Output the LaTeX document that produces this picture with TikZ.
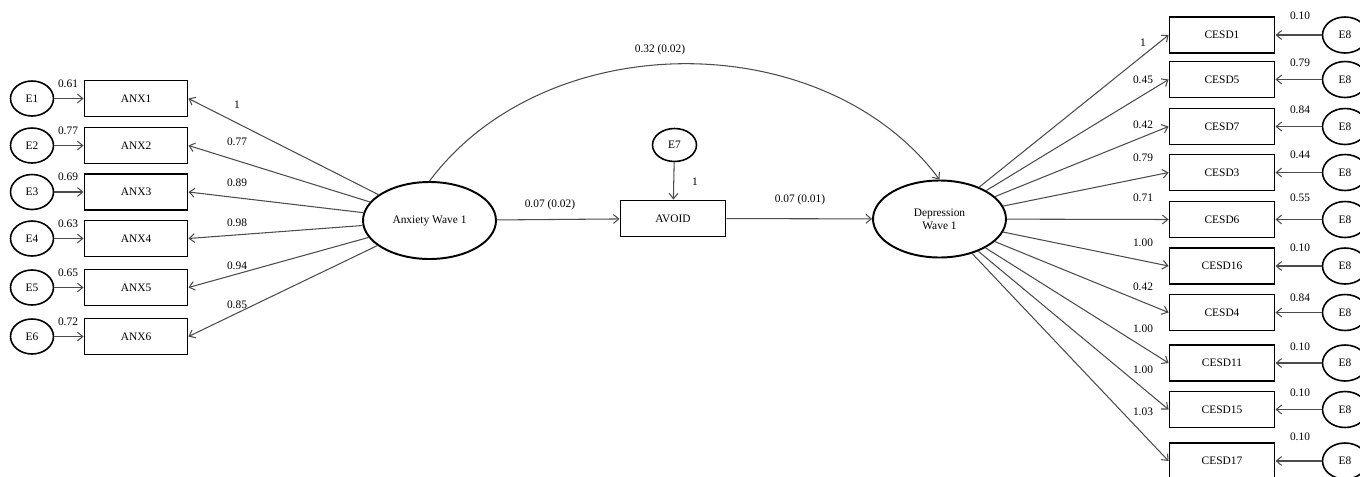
\documentclass[tikz,border=0pt]{standalone}
\usepackage{fontspec}
\setmainfont{Liberation Serif}
\usetikzlibrary{shapes.geometric,arrows.meta}
\begin{document}
\begin{tikzpicture}[x=0.02cm,y=-0.02cm,
  every node/.style={font=\fontsize{6.5}{7.5}\selectfont},
  obs/.style={draw,line width=1.1pt,minimum width=2.06cm,minimum height=0.72cm,inner sep=0pt},
  err/.style={draw,ellipse,line width=0.9pt,minimum width=0.86cm,minimum height=0.7cm,inner sep=0pt},
  lat/.style={draw,ellipse,line width=1.1pt,minimum width=2.66cm,minimum height=1.54cm,inner sep=0pt,align=center},
  conn/.style={draw=black!70,line width=0.6pt,-{Straight Barb[length=3pt,width=5pt]}},
  lbl/.style={inner sep=0pt}]
\useasboundingbox (0,0) rectangle (1360,477);

% latent variables
\node[lat] (anx) at (429.5,220.5) {Anxiety Wave 1};
\node[lat] (dep) at (939.5,219) {Depression\\Wave 1};
\node[obs,minimum width=2.1cm] (avoid) at (673,218.5) {AVOID};
\node[err,minimum width=0.88cm,minimum height=0.66cm] (e7) at (674.5,145) {E7};

% left side
\foreach \i/\y/\ev/\ld/\ly in {1/98.5/0.61/1/105, 2/145.5/0.77/0.77/142, 3/192/0.69/0.89/183, 4/238.5/0.63/0.98/223, 5/287.5/0.65/0.94/266, 6/336.5/0.72/0.85/305}{
  \node[obs] (anx\i) at (136,\y) {ANX\i};
  \node[err] (e\i) at (32,\y) {E\i};
  \draw[conn] (e\i) -- (anx\i);
  \node[lbl] (ev\i) at (68,\y-15) {\ev};
  \draw[conn] (anx) -- (anx\i.east);
  \node[lbl] (ld\i) at (237,\ly) {\ld};
}

% right side
\foreach \i/\n/\y/\ev/\ey/\ld/\ly in {1/1/35/0.10/16/1/43, 2/5/79.5/0.79/63/0.45/80, 3/7/126.5/0.84/110/0.42/125, 4/3/172.5/0.44/155/0.79/158, 5/6/219.5/0.55/198/0.71/198, 6/16/266/0.10/248/1.00/243, 7/4/312.5/0.84/298/0.42/287, 8/11/363/0.10/347/1.00/329, 9/15/409.5/0.10/393/1.00/370, 10/17/461/0.10/437/1.03/412}{
  \node[obs,minimum width=2.1cm] (c\i) at (1222,\y) {CESD\n};
  \node[err,minimum width=0.9cm,minimum height=0.72cm] (es\i) at (1345,\y) {E8};
  \draw[conn] (es\i) -- (c\i.east);
  \node[lbl] (cev\i) at (1300,\ey) {\ev};
  \draw[conn] (dep) -- (c\i.west);
  \node[lbl] (cld\i) at (1143,\ly) {\ld};
}

% structural paths
\draw[conn] (anx) -- (avoid);
\draw[conn] (avoid) -- (dep);
\draw[conn] (e7) -- (avoid);
\draw[conn] (anx.north) .. controls (546,25) and (824,25) .. (dep.north);
\node[lbl] (l1) at (550,205) {0.07 (0.02)};
\node[lbl] (l2) at (800,200) {0.07 (0.01)};
\node[lbl] (l3) at (695,182) {1};
\node[lbl] (l4) at (660,50) {0.32 (0.02)};
\end{tikzpicture}
\end{document}
